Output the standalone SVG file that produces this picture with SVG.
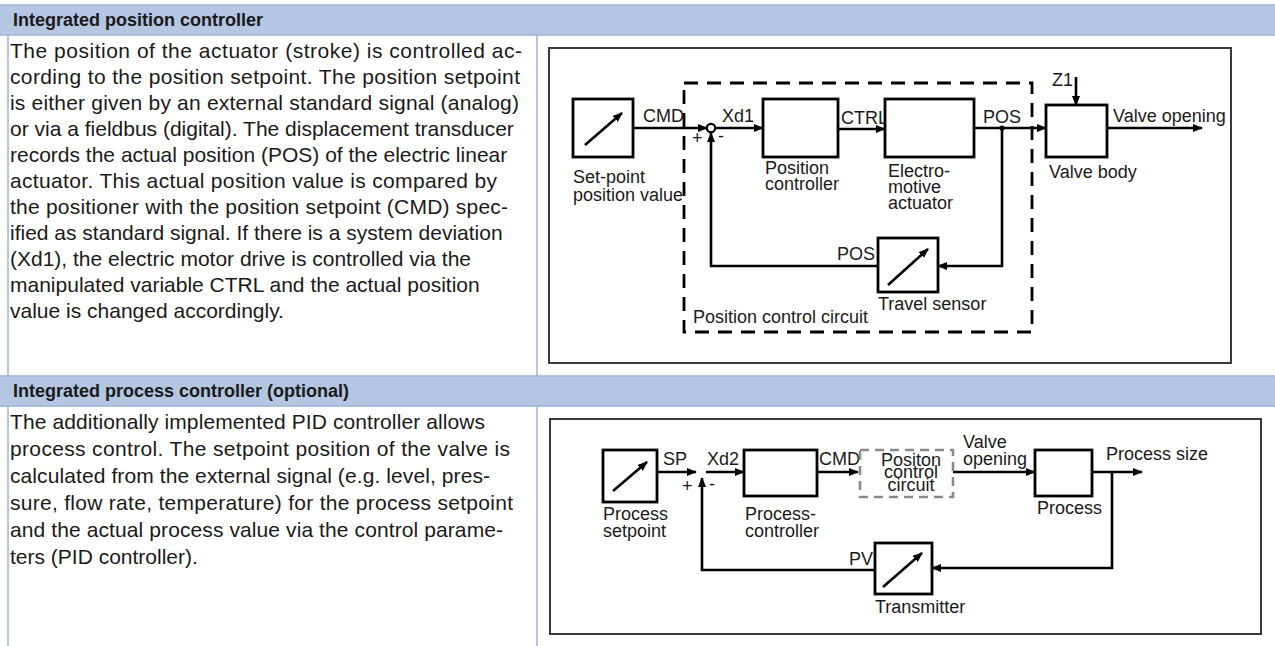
<svg xmlns="http://www.w3.org/2000/svg" width="1275" height="646" viewBox="0 0 1275 646">
<defs>
<marker id="ah" markerWidth="10" markerHeight="8" refX="9" refY="4" orient="auto" markerUnits="userSpaceOnUse">
<path d="M0,0 L10,4 L0,8 Z" fill="#000"/>
</marker>
<style>
.hdr{fill:#b4c6e2;stroke:#9bb3d6;stroke-width:1.5}
.vl{stroke:#9bb3d6;stroke-width:1.5}
.ht{font-family:"Liberation Sans",Arial,Helvetica,sans-serif;font-size:18px;font-weight:bold;fill:#1a1a1a}
.bt{font-family:"Liberation Sans",Arial,Helvetica,sans-serif;font-size:21px;fill:#1a1a1a}
.frame{fill:#fff;stroke:#3a3a3a;stroke-width:2}
.box{fill:#fff;stroke:#000;stroke-width:2.8}
.ln{fill:none;stroke:#000;stroke-width:2.6}
.arr{fill:none;stroke:#000;stroke-width:2.6;marker-end:url(#ah)}
.lb{font-family:"Liberation Sans",Arial,Helvetica,sans-serif;font-size:18px;fill:#1a1a1a}
.dash{fill:none;stroke:#000;stroke-width:2.8;stroke-dasharray:14 9}
.gdash{fill:none;stroke:#8a8a8a;stroke-width:2.6;stroke-dasharray:9 6}
</style>
</defs>
<rect width="1275" height="646" fill="#fff"/>

<g id="table">
<rect class="hdr" x="-2" y="5" width="1280" height="30"/>
<rect class="hdr" x="-2" y="376" width="1280" height="30"/>
<line class="vl" x1="8" y1="35" x2="8" y2="376"/>
<line class="vl" x1="537" y1="35" x2="537" y2="376"/>
<line class="vl" x1="8" y1="406" x2="8" y2="646"/>
<line class="vl" x1="537" y1="406" x2="537" y2="646"/>
<text class="ht" x="13" y="26">Integrated position controller</text>
<text class="ht" x="13" y="397">Integrated process controller (optional)</text>
</g>

<g id="text-position">
<text class="bt" x="10" y="58" textLength="512" lengthAdjust="spacing">The position of the actuator (stroke) is controlled ac-</text>
<text class="bt" x="10" y="84" textLength="510" lengthAdjust="spacing">cording to the position setpoint. The position setpoint</text>
<text class="bt" x="10" y="110" textLength="509" lengthAdjust="spacing">is either given by an external standard signal (analog)</text>
<text class="bt" x="10" y="136">or via a fieldbus (digital). The displacement transducer</text>
<text class="bt" x="10" y="162">records the actual position (POS) of the electric linear</text>
<text class="bt" x="10" y="188" textLength="487" lengthAdjust="spacing">actuator. This actual position value is compared by</text>
<text class="bt" x="10" y="214" textLength="498" lengthAdjust="spacing">the positioner with the position setpoint (CMD) spec-</text>
<text class="bt" x="10" y="240">ified as standard signal. If there is a system deviation</text>
<text class="bt" x="10" y="266">(Xd1), the electric motor drive is controlled via the</text>
<text class="bt" x="10" y="292">manipulated variable CTRL and the actual position</text>
<text class="bt" x="10" y="318">value is changed accordingly.</text>
</g>

<g id="text-process">
<text class="bt" x="10" y="429" textLength="475" lengthAdjust="spacing">The additionally implemented PID controller allows</text>
<text class="bt" x="10" y="456" textLength="500" lengthAdjust="spacing">process control. The setpoint position of the valve is</text>
<text class="bt" x="10" y="483" textLength="480" lengthAdjust="spacing">calculated from the external signal (e.g. level, pres-</text>
<text class="bt" x="10" y="510" textLength="503" lengthAdjust="spacing">sure, flow rate, temperature) for the process setpoint</text>
<text class="bt" x="10" y="537" textLength="493" lengthAdjust="spacing">and the actual process value via the control parame-</text>
<text class="bt" x="10" y="564">ters (PID controller).</text>
</g>

<rect id="frame-top" class="frame" x="549" y="48" width="682" height="315"/>
<g id="position-control-circuit">
<rect class="dash" x="684" y="83" width="348" height="249"/>
<text class="lb" x="693" y="323">Position control circuit</text>
</g>

<g id="connectors-top">
<line class="arr" x1="633" y1="128" x2="707" y2="128"/>
<line class="arr" x1="715" y1="128" x2="763" y2="128"/>
<line class="arr" x1="838" y1="129" x2="885" y2="129"/>
<line class="arr" x1="974" y1="128" x2="1046" y2="128"/>
<circle cx="1002" cy="128" r="2.6" fill="#000"/>
<polyline class="arr" points="1002,128 1002,266 938,266"/>
<polyline class="arr" points="878,266 711,266 711,133"/>
<line class="arr" x1="1076" y1="77" x2="1076" y2="105"/>
<line class="arr" x1="1107" y1="128" x2="1202" y2="128"/>
<text class="lb" x="643" y="122">CMD</text>
<text class="lb" x="722" y="122">Xd1</text>
<text class="lb" x="692" y="144">+</text>
<text class="lb" x="718" y="142">-</text>
<text class="lb" x="841" y="124">CTRL</text>
<text class="lb" x="983" y="123">POS</text>
<text class="lb" x="875" y="260" text-anchor="end">POS</text>
<text class="lb" x="1052" y="86">Z1</text>
<text class="lb" x="1113" y="122">Valve opening</text>
</g>

<g id="setpoint-position">
<rect class="box" x="573" y="99" width="60" height="58"/>
<line class="arr" x1="585" y1="145" x2="622" y2="113"/>
<text class="lb" x="573" y="183">Set-point</text>
<text class="lb" x="573" y="201">position value</text>
</g>
<g id="summing-1">
<circle cx="711" cy="128" r="4.2" fill="#fff" stroke="#000" stroke-width="2.2"/>
</g>
<g id="position-controller">
<rect class="box" x="763" y="99" width="75" height="58"/>
<text class="lb" x="765" y="174">Position</text>
<text class="lb" x="765" y="190">controller</text>
</g>
<g id="actuator">
<rect class="box" x="885" y="99" width="89" height="58"/>
<text class="lb" x="888" y="177">Electro-</text>
<text class="lb" x="888" y="193">motive</text>
<text class="lb" x="888" y="209">actuator</text>
</g>
<g id="valve-body">
<rect class="box" x="1046" y="105" width="61" height="52"/>
<text class="lb" x="1049" y="178">Valve body</text>
</g>
<g id="travel-sensor">
<rect class="box" x="878" y="238" width="60" height="54"/>
<line class="arr" x1="888" y1="285" x2="928" y2="249"/>
<text class="lb" x="878" y="310">Travel sensor</text>
</g>

<rect id="frame-bottom" class="frame" x="550" y="419" width="711" height="215"/>

<g id="connectors-bottom">
<line class="arr" x1="657" y1="472" x2="696" y2="472"/>
<line class="arr" x1="706" y1="472" x2="744" y2="472"/>
<line class="arr" x1="817" y1="472" x2="858" y2="472"/>
<line class="arr" x1="953" y1="472" x2="1035" y2="472"/>
<line class="arr" x1="1092" y1="472" x2="1142" y2="472"/>
<polyline class="arr" points="1112,472 1112,568 932,568"/>
<polyline class="arr" points="875,570 702,570 702,478"/>
<text class="lb" x="663" y="465">SP</text>
<text class="lb" x="707" y="465">Xd2</text>
<text class="lb" x="682" y="492">+</text>
<text class="lb" x="709" y="490">-</text>
<text class="lb" x="819" y="465">CMD</text>
<text class="lb" x="963" y="448">Valve</text>
<text class="lb" x="963" y="465">opening</text>
<text class="lb" x="1106" y="460">Process size</text>
<text class="lb" x="873" y="565" text-anchor="end">PV</text>
</g>

<g id="process-setpoint">
<rect class="box" x="603" y="450" width="54" height="52"/>
<line class="arr" x1="613" y1="491" x2="647" y2="462"/>
<text class="lb" x="603" y="520">Process</text>
<text class="lb" x="603" y="537">setpoint</text>
</g>
<g id="process-controller">
<rect class="box" x="744" y="450" width="73" height="46"/>
<text class="lb" x="745" y="520">Process-</text>
<text class="lb" x="745" y="537">controller</text>
</g>
<g id="position-control-circuit-2">
<rect class="gdash" x="860" y="450" width="93" height="47"/>
<text class="lb" x="911" y="466" text-anchor="middle">Positon</text>
<text class="lb" x="911" y="478" text-anchor="middle">control</text>
<text class="lb" x="911" y="491" text-anchor="middle">circuit</text>
</g>
<g id="process">
<rect class="box" x="1035" y="450" width="57" height="46"/>
<text class="lb" x="1037" y="514">Process</text>
</g>
<g id="transmitter">
<rect class="box" x="875" y="543" width="57" height="51"/>
<line class="arr" x1="883" y1="587" x2="922" y2="553"/>
<text class="lb" x="875" y="613">Transmitter</text>
</g>
</svg>
